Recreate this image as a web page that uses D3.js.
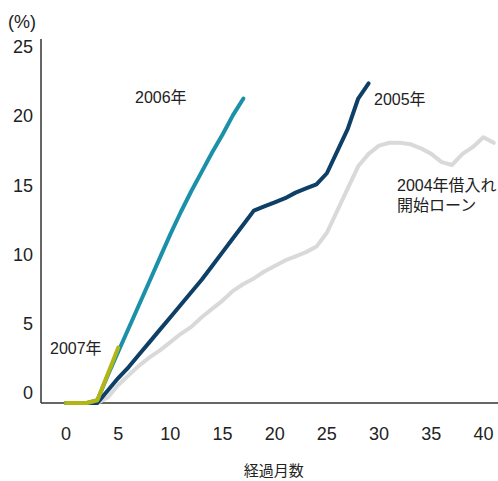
<!DOCTYPE html>
<html><head><meta charset="utf-8">
<script src="https://cdn.jsdelivr.net/npm/d3@7"></script>
<style>
html,body{margin:0;padding:0;background:#fff;}
svg{display:block;font-family:"Liberation Sans","Noto Sans CJK JP",sans-serif;}
</style></head>
<body>
<svg id="chart" width="498" height="481"></svg>
<script>
// Months elapsed and delinquency rate (%) by loan vintage
const months2004 = d3.range(0, 42);
const values2004 = [0,0,0,0,0.4,1.3,2.0,2.7,3.3,3.8,4.4,5.0,5.5,6.2,6.8,7.4,8.1,8.6,9.0,9.5,9.9,10.3,10.6,10.9,11.3,12.3,13.9,15.5,17.1,18.0,18.6,18.8,18.8,18.7,18.4,18.0,17.4,17.2,18.0,18.5,19.2,18.8];
const months2005 = d3.range(0, 30);
const values2005 = [0,0,0,0,0.9,1.8,2.6,3.5,4.4,5.3,6.2,7.1,8.0,8.9,9.9,10.9,11.9,12.9,13.9,14.2,14.5,14.8,15.2,15.5,15.8,16.6,18.2,19.8,22.0,23.1];
const months2006 = d3.range(0, 18);
const values2006 = [0,0,0,0.2,2.0,3.7,5.4,7.1,8.8,10.5,12.2,13.8,15.3,16.7,18.1,19.4,20.8,22.0];
const months2007 = d3.range(0, 6);
const values2007 = [0,0,0,0.2,2.1,4.0];

const seriesNames = ["2004年借入れ開始ローン","2005年","2006年","2007年"];
const seriesColors = ["#d9d9d9","#0e3f66","#1b91a9","#b3b514"];
const xTicks = [0,5,10,15,20,25,30,35,40];
const yTicks = [0,5,10,15,20,25];
const xTitle = "経過月数";
const yUnit = "(%)";

const series = [
  {name: seriesNames[0], color: seriesColors[0], pts: months2004.map((m,i)=>[m, values2004[i]])},
  {name: seriesNames[1], color: seriesColors[1], pts: months2005.map((m,i)=>[m, values2005[i]])},
  {name: seriesNames[2], color: seriesColors[2], pts: months2006.map((m,i)=>[m, values2006[i]])},
  {name: seriesNames[3], color: seriesColors[3], pts: months2007.map((m,i)=>[m, values2007[i]])}
];

const svg = d3.select("#chart");
const x = d3.scaleLinear().domain([-2.4, 41.4]).range([41, 498]);
const y = d3.scaleLinear().domain([0, 26.3]).range([403, 39]);

// axes lines
svg.append("line").attr("x1", 41).attr("x2", 41).attr("y1", y(26.3)).attr("y2", y(0))
  .attr("stroke", "#333").attr("stroke-width", 1.5);
svg.append("line").attr("x1", 41).attr("x2", 498).attr("y1", y(0)).attr("y2", y(0))
  .attr("stroke", "#333").attr("stroke-width", 1.5);

// y tick labels
svg.selectAll(".ytl").data(yTicks).enter().append("text")
  .attr("x", 33).attr("y", d => y(d) - 10).attr("dy", "0.35em")
  .attr("text-anchor", "end").attr("font-size", 18).attr("fill", "#222")
  .text(d => d);
// x tick labels
svg.selectAll(".xtl").data(xTicks).enter().append("text")
  .attr("x", d => x(d)).attr("y", 440)
  .attr("text-anchor", "middle").attr("font-size", 18).attr("fill", "#222")
  .text(d => d);

svg.append("text").attr("x", 8).attr("y", 28).attr("font-size", 18).attr("fill", "#222").text(yUnit);
svg.append("text").attr("x", x(20) - 1).attr("y", 476).attr("text-anchor", "middle")
  .attr("font-size", 15).attr("fill", "#222").text(xTitle);

const line = d3.line().x(d => x(d[0])).y(d => y(d[1])).curve(d3.curveLinear);
svg.selectAll(".series").data(series).enter().append("path")
  .attr("d", d => line(d.pts)).attr("fill", "none")
  .attr("stroke", d => d.color).attr("stroke-width", 4)
  .attr("stroke-linecap", "round").attr("stroke-linejoin", "round");

// labels
const lab = (t, px, py, anchor) => svg.append("text").attr("x", px).attr("y", py)
  .attr("text-anchor", anchor || "start").attr("font-size", 16).attr("fill", "#222").text(t);
lab("2006年", 135, 103);
lab("2005年", 374, 105);
lab("2007年", 50, 354);
lab("2004年借入れ", 397, 191);
lab("開始ローン", 397, 211);
</script>
</body></html>
